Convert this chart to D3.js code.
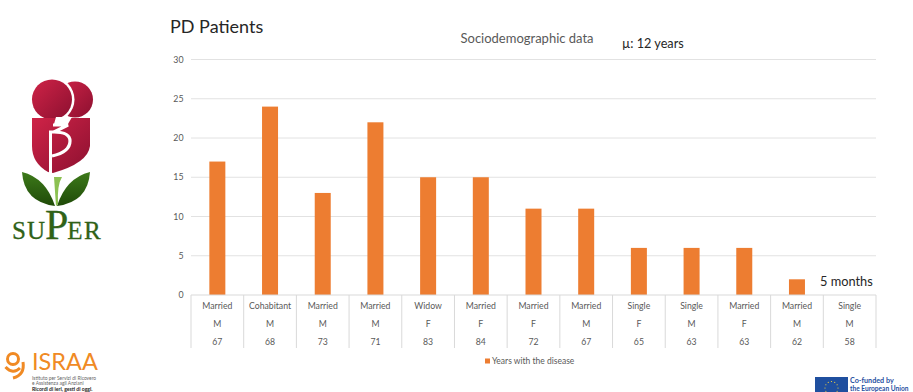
<!DOCTYPE html>
<html>
<head>
<meta charset="utf-8">
<script src="https://cdn.jsdelivr.net/npm/d3@7"></script>
<style>
html,body{margin:0;padding:0;background:#fff;overflow:hidden}
svg{display:block}
text{font-family:Lato,"Open Sans",sans-serif}
</style>
</head>
<body>
<div id="chart"></div>
<script>
const maritalStatus = ["Married","Cohabitant","Married","Married","Widow","Married","Married","Married","Single","Single","Married","Married","Single"];
const sex = ["M","M","M","M","F","F","F","M","F","M","F","M","M"];
const age = [67,68,73,71,83,84,72,67,65,63,63,62,58];
const yearsWithDisease = [17,24,13,22,15,15,11,11,6,6,6,2,null];
const yTicks = [0,5,10,15,20,25,30];
const seriesName = "Years with the disease";

const width = 913, height = 392;
const svg = d3.select("#chart").append("svg").attr("width", width).attr("height", height);

const x = d3.scaleBand().domain(d3.range(age.length)).range([191, 876]).paddingInner(0).paddingOuter(0);
const y = d3.scaleLinear().domain([0, 30]).range([295, 59.5]);
const barWidth = 16;

// Headings
svg.append("text").attr("x", 170).attr("y", 32.5).attr("font-size", 18).attr("fill", "#262626").text("PD Patients");
svg.append("text").attr("x", 460.5).attr("y", 43).attr("font-size", 13).attr("fill", "#595959").text("Sociodemographic data");
svg.append("text").attr("x", 622).attr("y", 48).attr("font-size", 12.7).attr("fill", "#262626").text("µ: 12 years");

// Value axis: gridlines and tick labels
const grid = svg.append("g");
grid.selectAll("line").data(yTicks.filter(d => d > 0)).join("line")
  .attr("x1", 191).attr("x2", 876)
  .attr("y1", d => y(d)).attr("y2", d => y(d))
  .attr("stroke", "#e2e2e2").attr("stroke-width", 1);
svg.append("g").selectAll("text").data(yTicks).join("text")
  .attr("x", 183.5).attr("y", d => y(d) + 3)
  .attr("text-anchor", "end").attr("font-size", 8.8).attr("fill", "#595959")
  .text(d => d);

// Bars
svg.append("g").selectAll("rect")
  .data(yearsWithDisease.map((v, i) => ({v, i})).filter(d => d.v !== null))
  .join("rect")
  .attr("x", d => x(d.i) + x.bandwidth() / 2 - barWidth / 2)
  .attr("width", barWidth)
  .attr("y", d => y(d.v))
  .attr("height", d => y(0) - y(d.v))
  .attr("fill", "#ed7d31");

// Category table beneath the plot
const table = svg.append("g").attr("stroke", "#d9d9d9").attr("stroke-width", 1);
table.append("line").attr("x1", 191).attr("x2", 876).attr("y1", 295).attr("y2", 295);
table.selectAll("line.sep").data(d3.range(age.length + 1)).join("line").attr("class", "sep")
  .attr("x1", i => i < age.length ? x(i) : x.range()[1])
  .attr("x2", i => i < age.length ? x(i) : x.range()[1])
  .attr("y1", 295).attr("y2", 348);

const rows = [[maritalStatus, 309], [sex, 327], [age, 345]];
rows.forEach(([values, rowY]) => {
  svg.append("g").selectAll("text").data(values).join("text")
    .attr("x", (d, i) => x(i) + x.bandwidth() / 2)
    .attr("y", rowY)
    .attr("text-anchor", "middle").attr("font-size", 8.7).attr("fill", "#595959")
    .text(d => d);
});

svg.append("text").attr("x", 820).attr("y", 286).attr("font-size", 12.8).attr("fill", "#262626").text("5 months");

// Legend
svg.append("rect").attr("x", 485).attr("y", 358.5).attr("width", 5).attr("height", 5).attr("fill", "#ed7d31");
svg.append("text").attr("x", 492).attr("y", 364).attr("font-size", 8.5).attr("fill", "#595959").text(seriesName);

// SuPer tulip emblem
const defs = svg.append("defs");
const red = defs.append("linearGradient").attr("id", "tulipRed").attr("x1", 0).attr("y1", 0).attr("x2", 1).attr("y2", 1);
red.append("stop").attr("offset", 0).attr("stop-color", "#cf2347");
red.append("stop").attr("offset", 1).attr("stop-color", "#8c1030");
const leaf = defs.append("linearGradient").attr("id", "tulipLeaf").attr("x1", 0).attr("y1", 0).attr("x2", 0).attr("y2", 1);
leaf.append("stop").attr("offset", 0).attr("stop-color", "#3d7a1a");
leaf.append("stop").attr("offset", 1).attr("stop-color", "#1f4a08");

const emblem = svg.append("g");
emblem.append("circle").attr("cx", 75).attr("cy", 99.5).attr("r", 18).attr("fill", "url(#tulipRed)");
emblem.append("circle").attr("cx", 52).attr("cy", 99.5).attr("r", 22.5).attr("fill", "#fff");
emblem.append("circle").attr("cx", 52).attr("cy", 99.5).attr("r", 20).attr("fill", "url(#tulipRed)");
emblem.append("path").attr("d", "M32,118H90V146Q88,163 53,173L48,172Q32,163 32,146Z").attr("fill", "url(#tulipRed)");
// White 3 and P strokes cut through the shield
emblem.append("path").attr("d", "M56,117H72L68,124H54Z").attr("fill", "#fff");
emblem.append("path").attr("d", "M53,125H68L54,132Q70,132 70,141Q70,152 52,156")
  .attr("fill", "none").attr("stroke", "#fff").attr("stroke-width", 3.2);
emblem.append("path").attr("d", "M50.5,176V132H54").attr("fill", "none").attr("stroke", "#fff").attr("stroke-width", 3);
emblem.append("path").attr("d", "M22,172Q46,178 55,206Q24,202 22,172Z").attr("fill", "url(#tulipLeaf)");
emblem.append("path").attr("d", "M90,172Q66,178 57,206Q88,202 90,172Z").attr("fill", "url(#tulipLeaf)");
emblem.append("path").attr("d", "M54,177H62Q57,185 58,204L56,206Z").attr("fill", "#8cc152");
const wordmark = svg.append("text").attr("x", 12).attr("y", 239).attr("fill", "#2f6218")
  .attr("stroke", "#2f6218").attr("stroke-width", 0.3).style("font-family", "'Liberation Serif',serif");
wordmark.append("tspan").attr("font-size", 25).attr("letter-spacing", 1).text("SU");
wordmark.append("tspan").attr("font-size", 42).attr("dx", -1).text("P");
wordmark.append("tspan").attr("font-size", 25).attr("dx", -1).attr("letter-spacing", 1.4).text("ER");

// ISRAA mark
const israa = svg.append("g");
israa.append("circle").attr("cx", 13).attr("cy", 359).attr("r", 5.5).attr("fill", "none").attr("stroke", "#f08a24").attr("stroke-width", 3);
israa.append("path").attr("d", "M5.5,367Q13,375 20,368M13,378Q25,375 23,362").attr("fill", "none").attr("stroke", "#f08a24").attr("stroke-width", 3);
israa.append("text").attr("x", 32).attr("y", 369.5).attr("font-size", 23.5).attr("fill", "#f08a24").text("ISRAA");
israa.append("text").attr("x", 32).attr("y", 379.5).attr("font-size", 4.9).attr("fill", "#666").text("Istituto per Servizi di Ricovero");
israa.append("text").attr("x", 32).attr("y", 384.5).attr("font-size", 4.9).attr("fill", "#666").text("e Assistenza agli Anziani");
israa.append("text").attr("x", 32).attr("y", 390.5).attr("font-size", 5.1).attr("font-weight", 700).attr("fill", "#222").text("Ricordi di ieri, gesti di oggi.");

// Co-funding flag and caption
svg.append("rect").attr("x", 815).attr("y", 377).attr("width", 33).attr("height", 15).attr("fill", "#1f4f9f");
svg.append("g").selectAll("circle").data(d3.range(12)).join("circle")
  .attr("cx", i => 831.5 + 6.5 * Math.cos(i * Math.PI / 6))
  .attr("cy", i => 388 + 6.5 * Math.sin(i * Math.PI / 6))
  .attr("r", 0.6).attr("fill", "#ffd83a");
svg.append("text").attr("x", 850).attr("y", 383).attr("font-size", 7.2).attr("font-weight", 700).attr("fill", "#1f4f9f").text("Co-funded by");
svg.append("text").attr("x", 850).attr("y", 391).attr("font-size", 6.6).attr("font-weight", 700).attr("fill", "#1f4f9f").text("the European Union");
</script>
</body>
</html>
